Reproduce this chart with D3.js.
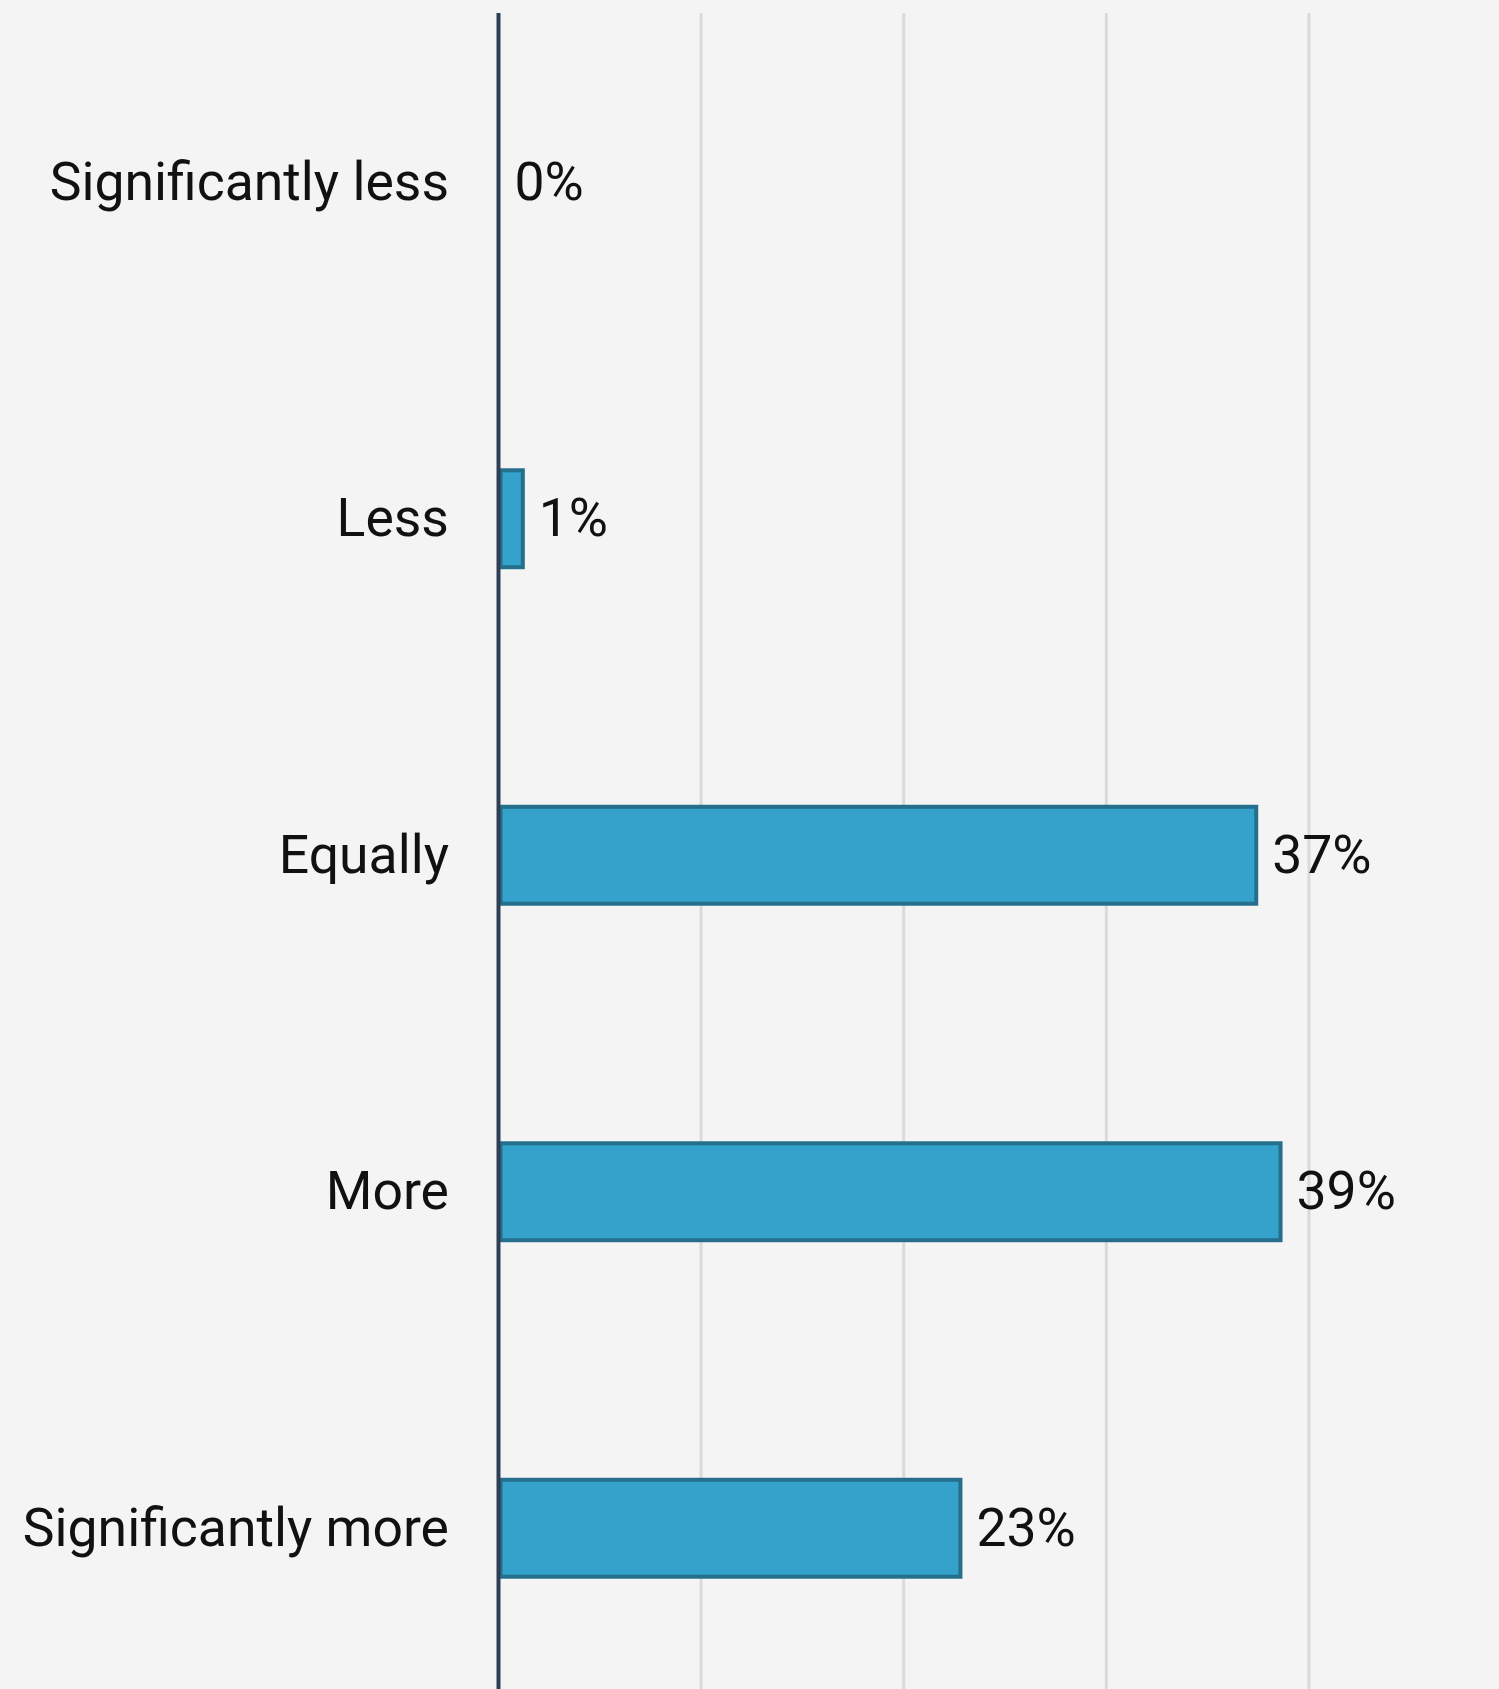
<!DOCTYPE html>
<html>
<head>
<meta charset="utf-8">
<script src="https://cdn.jsdelivr.net/npm/d3@7"></script>
<style>
  html, body { margin: 0; padding: 0; background: #f4f4f4; }
  svg { display: block; }
</style>
</head>
<body>
<div id="chart"></div>
<script>
  // data
  const categories = ['Significantly less', 'Less', 'Equally', 'More', 'Significantly more'];
  const shares = [0, 1.2, 37.4, 38.6, 22.8];
  const shareLabels = ['0%', '1%', '37%', '39%', '23%'];
  const gridTicks = [10, 20, 30, 40];

  const width = 1499;
  const height = 1689;
  const fontSize = 53.5;

  const svg = d3.select('#chart')
    .append('svg')
    .attr('width', width)
    .attr('height', height)
    .style('font-family', 'Roboto, sans-serif');

  svg.append('rect')
    .attr('width', width)
    .attr('height', height)
    .attr('fill', '#f4f4f4');

  const x = d3.scaleLinear()
    .domain([0, 50])
    .range([498.5, 1511.5]);

  const y = d3.scaleBand()
    .domain(categories)
    .range([14, 1696.5])
    .paddingInner(0.7)
    .paddingOuter(0.35);

  // vertical grid
  svg.append('g')
    .selectAll('line')
    .data(gridTicks)
    .join('line')
    .attr('x1', d => x(d))
    .attr('x2', d => x(d))
    .attr('y1', 13)
    .attr('y2', height)
    .attr('stroke', '#dadada')
    .attr('stroke-width', 3);

  // bars
  const stroke = 4;
  svg.append('g')
    .selectAll('rect')
    .data(categories.filter((c, i) => shares[i] > 0))
    .join('rect')
    .attr('x', x(0) + stroke / 2)
    .attr('y', d => y(d) + stroke / 2)
    .attr('width', d => x(shares[categories.indexOf(d)]) - x(0) - stroke / 2)
    .attr('height', y.bandwidth() - stroke)
    .attr('fill', '#35a2cb')
    .attr('stroke', '#246f8b')
    .attr('stroke-width', stroke);

  // baseline axis
  svg.append('line')
    .attr('x1', x(0))
    .attr('x2', x(0))
    .attr('y1', 13)
    .attr('y2', height)
    .attr('stroke', '#2f3e55')
    .attr('stroke-width', 4);

  // category labels
  svg.append('g')
    .selectAll('text')
    .data(categories)
    .join('text')
    .attr('x', 449)
    .attr('y', d => y(d) + y.bandwidth() / 2)
    .attr('dy', '0.33em')
    .attr('text-anchor', 'end')
    .attr('font-size', fontSize)
    .attr('fill', '#111')
    .text(d => d);

  // value labels
  svg.append('g')
    .selectAll('text')
    .data(categories)
    .join('text')
    .attr('x', (d, i) => x(shares[i]) + 16)
    .attr('y', d => y(d) + y.bandwidth() / 2)
    .attr('dy', '0.33em')
    .attr('font-size', fontSize)
    .attr('fill', '#111')
    .text((d, i) => shareLabels[i]);
</script>
</body>
</html>
